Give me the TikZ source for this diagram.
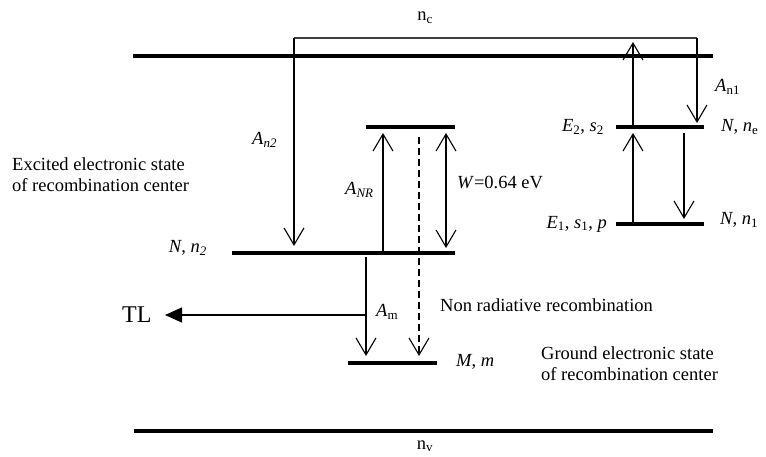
\documentclass[tikz,border=0pt]{standalone}
\usepackage{fontspec}
\setmainfont{Liberation Serif}
\usetikzlibrary{arrows.meta}
\begin{document}
\begin{tikzpicture}[x=1pt,y=-1pt,
  level/.style={line width=4pt},
  band/.style={line width=4pt},
  barb/.tip={Straight Barb[length=17pt,width=20pt,line width=1.1pt]},
  trans/.style={line width=1.1pt,-barb},
  dtrans/.style={line width=1.1pt,barb-barb},
  lbl/.style={inner sep=0pt,font=\fontsize{18.5}{21}\selectfont},
  ilbl/.style={lbl,align=left}]
\useasboundingbox (0,0) rectangle (766,457);
% bands
\coordinate (cbL) at (133,56); \coordinate (cbR) at (713,56);
\coordinate (vbL) at (134,431); \coordinate (vbR) at (713,431);
\draw[band] (cbL) -- (cbR);
\draw[band] (vbL) -- (vbR);
% levels
\coordinate (wL) at (366,127); \coordinate (wR) at (455,127);
\coordinate (n2L) at (232,253); \coordinate (n2R) at (455,253);
\coordinate (mL) at (348,363); \coordinate (mR) at (437,363);
\coordinate (e2L) at (616,127); \coordinate (e2R) at (704,127);
\coordinate (e1L) at (616,224); \coordinate (e1R) at (704,224);
\draw[level] (wL) -- (wR);
\draw[level] (n2L) -- (n2R);
\draw[level] (mL) -- (mR);
\draw[level] (e2L) -- (e2R);
\draw[level] (e1L) -- (e1R);
% bracket over conduction band
\coordinate (bL) at (294,38); \coordinate (bR) at (697,38);
\coordinate (an2end) at (294,246);
\coordinate (an1end) at (697,123);
\draw[line width=1.1pt,black!75] (bL) -- (bR);
\draw[trans] (bL) -- (an2end);
\draw[trans] (bR) -- (an1end);
% E2 to conduction band
\coordinate (upS) at (633,125); \coordinate (upE) at (633,42);
\draw[trans] (upS) -- (upE);
% E1 <-> E2
\coordinate (e12S) at (633,222); \coordinate (e12E) at (633,133);
\draw[trans] (e12S) -- (e12E);
\coordinate (e21S) at (684,133); \coordinate (e21E) at (684,219);
\draw[trans] (e21S) -- (e21E);
% A_NR
\coordinate (nrS) at (383,251); \coordinate (nrE) at (383,133);
\draw[trans] (nrS) -- (nrE);
% W double arrow
\coordinate (wS) at (446,133); \coordinate (wE) at (446,248);
\draw[dtrans] (wS) -- (wE);
% dashed non radiative
\coordinate (dS) at (419,137); \coordinate (dE) at (419,356);
\draw[trans,dash pattern=on 7pt off 4pt] (dS) -- (dE);
% A_m
\coordinate (amS) at (366,257); \coordinate (amE) at (366,356);
\coordinate (tlS) at (366,315); \coordinate (tlE) at (165,315);
\draw[trans] (amS) -- (amE);
\draw[line width=1.1pt,-{Triangle[length=17pt,width=15pt]}] (tlS) -- (tlE);
% labels
\node[lbl] (nc) at (425,18) {n\textsubscript{c}};
\node[lbl] (nv) at (425,446) {n\textsubscript{v}};
\node[lbl,anchor=west] (an1) at (715,87) {\textit{A}\textsubscript{n1}};
\node[lbl,anchor=east] (e2lab) at (604,127) {\textit{E}\textsubscript{2}, \textit{s}\textsubscript{2}};
\node[lbl,anchor=west] (nelab) at (721,127) {\textit{N}, \textit{n}\textsubscript{e}};
\node[lbl,anchor=east] (e1lab) at (607,224) {\textit{E}\textsubscript{1}, \textit{s}\textsubscript{1}, \textit{p}};
\node[lbl,anchor=west] (n1lab) at (720,220) {\textit{N}, \textit{n}\textsubscript{1}};
\node[lbl,anchor=west] (an2) at (252,140) {\textit{A}\textsubscript{\textit{n2}}};
\node[lbl,anchor=west] (anr) at (345,190) {\textit{A}\textsubscript{\textit{NR}}};
\node[lbl,anchor=west] (wlab) at (457,182) {\textit{W}=0.64 eV};
\node[ilbl,anchor=west] (exc) at (12,175) {Excited electronic state\\of recombination center};
\node[lbl,anchor=east] (n2lab) at (207,248) {\textit{N}, \textit{n}\textsubscript{\textit{2}}};
\node[lbl,anchor=west,font=\fontsize{24}{28}\selectfont] (tl) at (122,315) {TL};
\node[lbl,anchor=west] (am) at (376,312) {\textit{A}\textsubscript{m}};
\node[lbl,anchor=west] (nrr) at (440,305) {Non radiative recombination};
\node[lbl,anchor=west] (mm) at (456,362) {\textit{M}, \textit{m}};
\node[ilbl,anchor=west] (gr) at (541,364) {Ground electronic state\\of recombination center};
\end{tikzpicture}
\end{document}
